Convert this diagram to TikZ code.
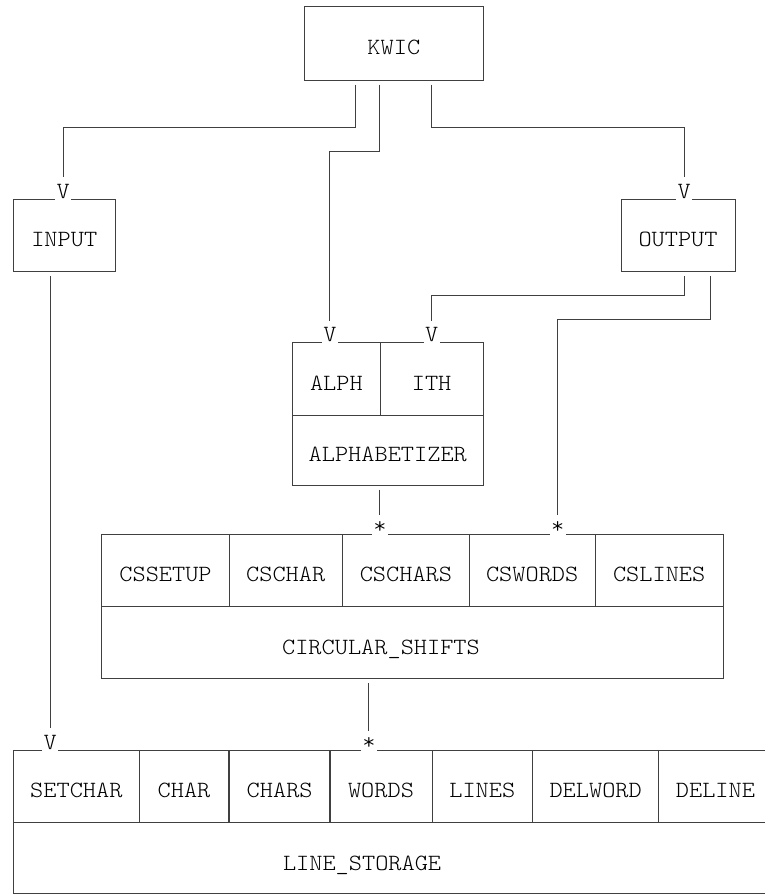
\documentclass[tikz,border=0pt]{standalone}
\usepackage{fontspec}
\setmonofont[FakeStretch=1.08]{Latin Modern Mono Light}
\begin{document}
\begin{tikzpicture}[x=1cm,y=1cm, font=\ttfamily\fontsize{17.5}{20}\selectfont, line width=0.7pt,
  modbox/.style={draw=black!75, rectangle, inner sep=0pt, text height=17pt, text depth=0pt, align=center},
  pointer/.style={fill=white, inner xsep=0pt, inner ysep=2pt, minimum width=0.42cm, anchor=base},
  wire/.style={draw=black!75, shorten <=3pt, shorten >=3pt}]
\useasboundingbox (0,0) rectangle (20.24,-23.68);
% top level
\node[modbox, minimum width=4.73cm, minimum height=1.94cm] (kwic) at (10.42,-1.15) {KWIC};
\node[modbox, minimum width=2.69cm, minimum height=1.91cm] (input) at (1.70,-6.23) {INPUT};
\node[modbox, minimum width=3.02cm, minimum height=1.91cm] (output) at (17.94,-6.23) {OUTPUT};
% alphabetizer
\node[modbox, minimum width=2.32cm, minimum height=1.92cm] (alph) at (8.90,-10.02) {ALPH};
\node[modbox, minimum width=2.725cm, minimum height=1.92cm] (ith) at (11.42,-10.02) {ITH};
\node[modbox, minimum width=5.05cm, minimum height=1.85cm] (alphabetizer) at (10.26,-11.91) {ALPHABETIZER};
% circular shifts
\node[modbox, minimum width=3.37cm, minimum height=1.91cm] (cssetup) at (4.38,-15.09) {CSSETUP};
\node[modbox, minimum width=3.00cm, minimum height=1.91cm] (cschar) at (7.56,-15.09) {CSCHAR};
\node[modbox, minimum width=3.36cm, minimum height=1.91cm] (cschars) at (10.74,-15.09) {CSCHARS};
\node[modbox, minimum width=3.33cm, minimum height=1.91cm] (cswords) at (14.08,-15.09) {CSWORDS};
\node[modbox, minimum width=3.38cm, minimum height=1.91cm] (cslines) at (17.44,-15.09) {CSLINES};
\node[modbox, minimum width=16.44cm, minimum height=1.92cm] (circ) at (10.91,-17.00) {};
\node[anchor=base] (circtext) at (10.08,-17.31) {CIRCULAR\_SHIFTS};
% line storage
\node[modbox, minimum width=3.33cm, minimum height=1.90cm] (setchar) at (2.02,-20.80) {SETCHAR};
\node[modbox, minimum width=2.37cm, minimum height=1.90cm] (char) at (4.87,-20.80) {CHAR};
\node[modbox, minimum width=2.67cm, minimum height=1.90cm] (chars) at (7.40,-20.80) {CHARS};
\node[modbox, minimum width=2.70cm, minimum height=1.90cm] (words) at (10.08,-20.80) {WORDS};
\node[modbox, minimum width=2.66cm, minimum height=1.90cm] (lines) at (12.76,-20.80) {LINES};
\node[modbox, minimum width=3.33cm, minimum height=1.90cm] (delword) at (15.76,-20.80) {DELWORD};
\node[modbox, minimum width=3.00cm, minimum height=1.90cm] (deline) at (18.93,-20.80) {DELINE};
\node[modbox, minimum width=20.08cm, minimum height=1.90cm] (lstore) at (10.39,-22.70) {};
\node[anchor=base] (lstext) at (9.58,-23.04) {LINE\_STORAGE};
% entry marks
\node[pointer] (vin) at (1.675,-5.26) {V};
\node[pointer] (vout) at (18.105,-5.26) {V};
\node[pointer] (valph) at (8.73,-9.045) {V};
\node[pointer] (vith) at (11.42,-9.045) {V};
\node[pointer] (sa) at (10.05,-14.12) {*};
\node[pointer] (sb) at (14.755,-14.12) {*};
\node[pointer] (vls) at (1.33,-19.835) {V};
\node[pointer] (sls) at (9.76,-19.835) {*};
% calls
\draw[wire] ([xshift=-1.01cm]kwic.south) -- ++(0,-1.23) -| (vin);
\draw[wire] ([xshift=-0.37cm]kwic.south) -- ++(0,-1.87) -| (valph);
\draw[wire] ([xshift=1.0cm]kwic.south) -- ++(0,-1.23) -| (vout);
\draw[wire] ([xshift=0.165cm]output.south) -- ++(0,-0.615) -| (vith);
\draw[wire] ([xshift=0.85cm]output.south) -- ++(0,-1.255) -| (sb);
\draw[wire] (sa |- alphabetizer.south) -- (sa);
\draw[wire] (vls |- input.south) -- (vls);
\draw[wire] (sls |- circ.south) -- (sls);
\end{tikzpicture}
\end{document}
